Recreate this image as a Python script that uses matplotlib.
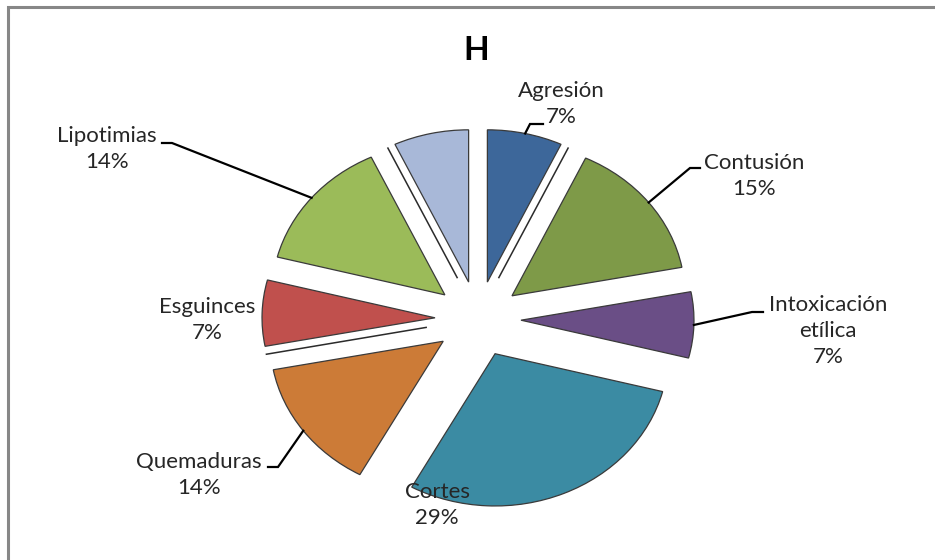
import numpy as np
import matplotlib
matplotlib.use("Agg")
import matplotlib.pyplot as plt
from matplotlib.lines import Line2D
from matplotlib.patches import Rectangle

# ---- data -------------------------------------------------------------
categories = ["Agresión", "Contusión", "Intoxicación\netílica", "Cortes",
              "Quemaduras", "Esguinces", "Lipotimias", ""]
shares = [7, 15, 7, 29, 14, 7, 14, 7]
pct_labels = ["7%", "15%", "7%", "29%", "14%", "7%", "14%", ""]
title = "H"

# ---- style ------------------------------------------------------------
colors = ["#3D679A", "#7E9A48", "#6A4E86", "#3B8BA3",
          "#CC7B37", "#C0504D", "#9BBB59", "#A8B8D8"]
W, H = 935, 560
CX, CY = 478, 319          # pie centre in pixels
RX = 173                   # horizontal radius in pixels
TILT = 0.88                # vertical squash of the tilted pie
EXPLODE_PX = 43

# label block centres (pixels) and leader elbows (None = no leader)
label_pos = [(561, 104), (754, 176), (828, 331), (437, 505),
             (199, 475), (207, 320), (107, 149), None]
leader_elbow = [((530, 124), (543, 124)), ((690, 168), (700, 168)),
                ((752, 312), (763, 312)), None,
                ((278, 467), (268, 467)), None,
                ((172, 143), (162, 143)), None]
# slices whose lower side wall shows as a thin line
side_wall = [True, False, False, False, False, True, False, True]

TEXT = "#262626"
FONT = ["Lato", "DejaVu Sans"]

fig = plt.figure(figsize=(W / 100, H / 100), dpi=100)
fig.patch.set_facecolor("white")
ax = fig.add_axes([0, 0, 1, 1])


def to_data(px, py):
    return px - CX, (CY - py) / TILT


def to_px(x, y):
    return x + CX, CY - y * TILT


wedges, _ = ax.pie(shares, radius=RX, center=(0, 0), startangle=90,
                   counterclock=False, colors=colors,
                   explode=[EXPLODE_PX] * len(shares),
                   wedgeprops=dict(edgecolor="#3a3a3a", linewidth=0.9))

ax.set_aspect("auto")
ax.set_xlim(-CX, W - CX)
ax.set_ylim((CY - H) / TILT, CY / TILT)
ax.axis("off")

for i, w in enumerate(wedges):
    cx, cy = w.center
    t1, t2 = np.deg2rad(w.theta1), np.deg2rad(w.theta2)
    tm = 0.5 * (t1 + t2)

    # thin side-wall line along the lower radial edge
    if side_wall[i]:
        ta = t1 if np.sin(t1) < np.sin(t2) else t2
        other = t2 if ta == t1 else t1
        p0 = np.array(to_px(cx, cy))
        p1 = np.array(to_px(cx + RX * np.cos(ta), cy + RX * np.sin(ta)))
        d = p1 - p0
        n = np.array([-d[1], d[0]]) / np.hypot(*d)
        pin = np.array(to_px(cx + RX * 0.5 * np.cos(other),
                             cy + RX * 0.5 * np.sin(other)))
        if np.dot(pin - p0, n) > 0:
            n = -n
        a = p0 + 0.06 * d + 8 * n
        b = p0 + 1.0 * d + 8 * n
        xa, ya = to_data(*a)
        xb, yb = to_data(*b)
        ax.add_line(Line2D([xa, xb], [ya, yb], color="#2b2b2b", lw=1.1))

    # labels
    if label_pos[i] is not None:
        lx, ly = label_pos[i]
        txt = categories[i] + "\n" + pct_labels[i]
        fig.text(lx / W, 1 - ly / H, txt, ha="center", va="center",
                 fontsize=16, color=TEXT, family=FONT, linespacing=1.38)

    # leader lines from slice arc midpoint
    if leader_elbow[i] is not None:
        ax_, ay_ = cx + RX * np.cos(tm), cy + RX * np.sin(tm)
        (ex, ey), (fx, fy) = leader_elbow[i]
        e = to_data(ex, ey)
        f = to_data(fx, fy)
        ax.add_line(Line2D([ax_, e[0], f[0]], [ay_, e[1], f[1]],
                           color="black", lw=1.6, solid_joinstyle="miter"))

fig.text(476 / W, 1 - 50 / H, title, ha="center", va="center",
         fontsize=24, fontweight="bold", color="black", family=FONT)

# chart frame (runs past the right and bottom edges)
fig.patches.append(Rectangle((8 / W, -0.1), 1.2, 1 - 7 / H + 0.1,
                             transform=fig.transFigure, fill=False,
                             edgecolor="#878787", linewidth=2.2))

fig.savefig("out.png", dpi=100, facecolor="white")
